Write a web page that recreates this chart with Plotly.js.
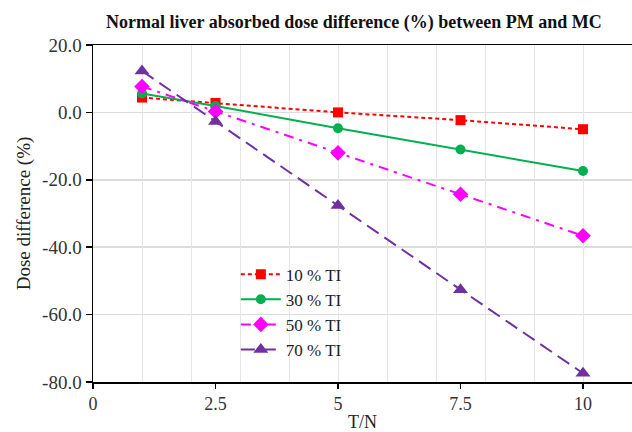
<!DOCTYPE html>
<html>
<head>
<meta charset="utf-8">
<script src="https://cdn.plot.ly/plotly-3.0.1.min.js"></script>
<style>html,body{margin:0;padding:0;background:#fff;}#chart{width:632px;height:432px;}</style>
</head>
<body>
<div id="chart"></div>
<script>
const xValues = [1, 2.5, 5, 7.5, 10];
const seriesNames = ["10 % TI", "30 % TI", "50 % TI", "70 % TI"];
const ti10 = [4.4, 2.8, 0.0, -2.3, -5.0];
const ti30 = [5.6, 1.9, -4.7, -11.0, -17.4];
const ti50 = [7.7, 0.3, -12.0, -24.3, -36.6];
const ti70 = [12.3, -2.7, -27.6, -52.6, -77.4];
const xTickVals = [0, 2.5, 5, 7.5, 10];
const xTickText = ["0", "2.5", "5", "7.5", "10"];
const yTickVals = [-80, -60, -40, -20, 0, 20];
const yTickText = ["-80.0", "-60.0", "-40.0", "-20.0", "0.0", "20.0"];

const serif = "Liberation Serif, Times New Roman, serif";
const styles = [
  {color: "#FF0000", dash: "4px,3px", symbol: "square", size: 10},
  {color: "#00B050", dash: "solid", symbol: "circle", size: 10},
  {color: "#FF00FF", dash: "10px,6px,3px,6px", symbol: "diamond", size: 12},
  {color: "#7030A0", dash: "14px,7px", symbol: "triangle-up", size: 13}
];
const allSeries = [ti10, ti30, ti50, ti70];
const traces = allSeries.map((ys, i) => ({
  type: "scatter",
  mode: "lines+markers",
  name: seriesNames[i],
  x: xValues,
  y: ys,
  line: {color: styles[i].color, width: 2, dash: styles[i].dash},
  marker: {color: styles[i].color, symbol: styles[i].symbol, size: styles[i].size}
}));
// invisible helper trace so the overlay axis draws integer vertical gridlines
traces.push({type: "scatter", x: [0], y: [0], xaxis: "x2", mode: "markers",
  marker: {opacity: 0}, showlegend: false, hoverinfo: "skip"});

const layout = {
  width: 632, height: 432,
  margin: {l: 93, r: 0, t: 45, b: 50},
  paper_bgcolor: "#fff", plot_bgcolor: "#fff",
  font: {family: serif, color: "#333", size: 18},
  title: {text: "<b>Normal liver absorbed dose difference (%) between PM and MC</b>",
    font: {family: serif, size: 18, color: "#111"}, x: 0.56, xanchor: "center", y: 0.95, yanchor: "middle"},
  xaxis: {range: [0, 11], tickvals: xTickVals, ticktext: xTickText, showgrid: false,
    zeroline: false, showline: true, linecolor: "#000", linewidth: 1.5, mirror: true,
    ticks: "outside", ticklen: 5, tickcolor: "#000", tickwidth: 1.5,
    tickfont: {family: serif, size: 18, color: "#333"},
    title: {text: "T/N", font: {family: serif, size: 18, color: "#222"}, standoff: 2}},
  xaxis2: {range: [0, 11], overlaying: "x", dtick: 1, tick0: 0, showgrid: true,
    gridcolor: "#e6e6e6", gridwidth: 1, showticklabels: false, ticks: "", showline: false, zeroline: false},
  yaxis: {range: [-80, 20], tickvals: yTickVals, ticktext: yTickText, showgrid: true,
    gridcolor: "#dcdcdc", gridwidth: 1.5, zeroline: false, showline: true, linecolor: "#000", linewidth: 1.5,
    ticks: "outside", ticklen: 6, tickcolor: "#000", tickwidth: 1.5,
    tickfont: {family: serif, size: 19, color: "#333"},
    title: {text: "Dose difference (%)", font: {family: serif, size: 19, color: "#222"}, standoff: 6}},
  showlegend: true,
  legend: {x: 0.265, y: 0.372, xanchor: "left", yanchor: "top", bgcolor: "rgba(0,0,0,0)",
    font: {family: serif, size: 17, color: "#222"}, tracegroupgap: 0, itemwidth: 40}
};
Plotly.newPlot("chart", traces, layout, {displayModeBar: false, staticPlot: true});
</script>
</body>
</html>
